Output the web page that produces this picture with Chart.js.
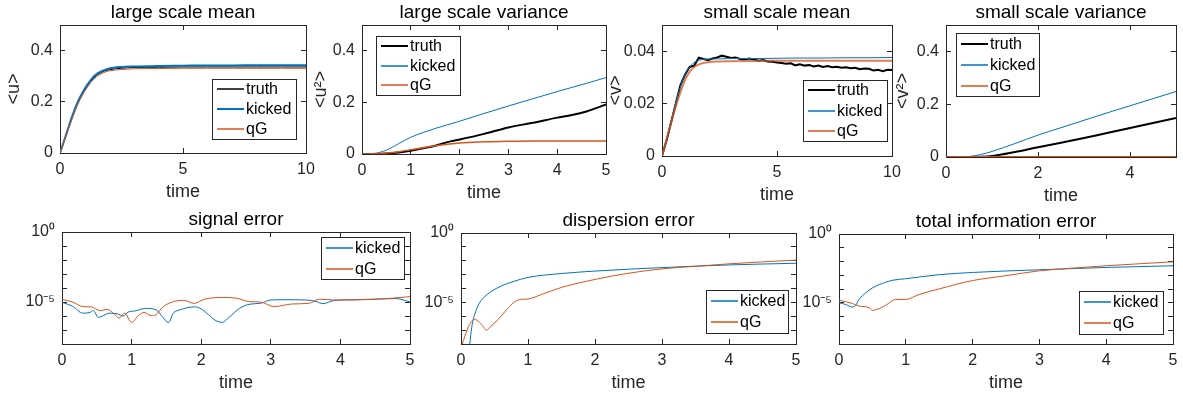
<!DOCTYPE html>
<html>
<head>
<meta charset="utf-8">
<script src="https://cdn.jsdelivr.net/npm/chart.js@4.4.1/dist/chart.umd.min.js"></script>
<style>
  body { margin: 0; background: #fff; width: 1183px; height: 398px; overflow: hidden; position: relative; }
  canvas { position: absolute; }
</style>
</head>
<body>
<script>
// large scale mean
const t1 = [0, 0.25, 0.5, 0.75, 1, 1.25, 1.5, 1.75, 2, 2.5, 3, 4, 5, 6, 7, 8, 9, 10];
const truth1 = [0, 0.07, 0.14, 0.20, 0.245, 0.28, 0.304, 0.318, 0.325, 0.331, 0.334, 0.335, 0.336, 0.336, 0.336, 0.336, 0.336, 0.336];
const kicked1 = [0, 0.072, 0.145, 0.205, 0.25, 0.285, 0.309, 0.322, 0.33, 0.336, 0.338, 0.340, 0.341, 0.342, 0.342, 0.343, 0.343, 0.343];
const qg1 = [0, 0.068, 0.135, 0.195, 0.24, 0.275, 0.299, 0.313, 0.321, 0.326, 0.329, 0.330, 0.331, 0.331, 0.331, 0.331, 0.331, 0.331];

// large scale variance
const t2 = [0, 0.25, 0.5, 0.75, 1, 1.25, 1.5, 1.75, 2, 2.5, 3, 3.5, 4, 4.3, 4.6, 5];
const truth2 = [0, 0, 0.002, 0.006, 0.013, 0.022, 0.032, 0.046, 0.056, 0.078, 0.103, 0.121, 0.141, 0.151, 0.165, 0.192];
const kicked2 = [0, 0.002, 0.015, 0.04, 0.065, 0.083, 0.099, 0.113, 0.127, 0.157, 0.186, 0.214, 0.242, 0.258, 0.274, 0.296];
const qg2 = [0, 0.001, 0.004, 0.009, 0.016, 0.024, 0.032, 0.038, 0.043, 0.047, 0.049, 0.050, 0.050, 0.050, 0.050, 0.050];

// small scale mean
const t3 = [0, 0.25, 0.5, 0.75, 1, 1.25, 1.5, 1.75, 2, 2.5, 3, 4, 5, 6, 7, 8, 9, 10];
const kicked3 = [0, 0.008, 0.017, 0.025, 0.031, 0.0345, 0.0362, 0.0368, 0.0370, 0.0371, 0.0372, 0.0372, 0.0373, 0.0374, 0.0374, 0.0375, 0.0375, 0.0376];
const qg3 = [0, 0.008, 0.016, 0.023, 0.029, 0.0327, 0.0345, 0.0354, 0.0358, 0.0361, 0.0362, 0.0363, 0.0364, 0.0364, 0.0364, 0.0364, 0.0364, 0.0364];
const truthT3 = [0, 0.2, 0.4, 0.6, 0.8, 1, 1.2, 1.4, 1.6, 1.8, 2, 2.2, 2.4, 2.6, 2.8, 3, 3.2, 3.4, 3.6, 3.8, 4, 4.2, 4.4, 4.6, 4.8, 5,
  5.2, 5.4, 5.6, 5.8, 6, 6.2, 6.4, 6.6, 6.8, 7, 7.2, 7.4, 7.6, 7.8, 8, 8.2, 8.4, 8.6, 8.8, 9, 9.2, 9.4, 9.6, 9.8, 10];
const truth3 = [0, 0.006, 0.013, 0.020, 0.027, 0.031, 0.034, 0.0345, 0.0375, 0.0370, 0.0366, 0.0372, 0.0376, 0.0383, 0.0379, 0.0374,
  0.0376, 0.0370, 0.0368, 0.0372, 0.0368, 0.0364, 0.0366, 0.0361, 0.0360, 0.0357, 0.0355, 0.0352, 0.0354, 0.0346, 0.0350,
  0.0345, 0.0347, 0.0342, 0.0345, 0.0340, 0.0343, 0.0339, 0.0341, 0.0337, 0.0339, 0.0335, 0.0337, 0.0331, 0.0334, 0.0333,
  0.0326, 0.0329, 0.0324, 0.0329, 0.0328];

// small scale variance
const t4 = [0, 0.25, 0.5, 0.75, 1, 1.5, 2, 2.5, 3, 3.5, 4, 4.5, 5];
const truth4 = [0, 0, 0, 0.001, 0.004, 0.019, 0.037, 0.054, 0.072, 0.091, 0.110, 0.129, 0.148];
const kicked4 = [0, 0, 0.002, 0.009, 0.021, 0.051, 0.083, 0.111, 0.139, 0.167, 0.194, 0.221, 0.248];
const qg4 = [0, 0.0005, 0.001, 0.001, 0.001, 0.001, 0.001, 0.001, 0.001, 0.001, 0.001, 0.001, 0.001];

// signal error
const tK5 = [0, 0.15, 0.3, 0.4, 0.45, 0.52, 0.6, 0.68, 0.8, 0.88, 0.95, 1.05, 1.2, 1.35, 1.45, 1.53, 1.6, 1.7, 1.9, 2, 2.1,
  2.2, 2.3, 2.4, 2.55, 2.7, 2.85, 3, 3.2, 3.5, 3.65, 3.75, 3.9, 4.2, 4.5, 4.8, 5];
const kicked5 = [9.5e-6, 5e-6, 1.6e-6, 1.8e-6, 2.5e-6, 8e-7, 1.1e-6, 1.6e-6, 1.4e-6, 1e-6, 1.9e-6, 2.3e-6, 3.5e-6, 2.8e-6,
  8e-7, 3.4e-7, 1.6e-6, 2.8e-6, 4.5e-6, 3.2e-6, 1.3e-6, 5e-7, 3.5e-7, 8e-7, 3.5e-6, 7e-6, 8e-6, 1.4e-5, 1.45e-5, 1.4e-5,
  1.1e-5, 7.6e-6, 1.25e-5, 1.45e-5, 1.6e-5, 1.75e-5, 1e-5];
const tQ5 = [0, 0.15, 0.3, 0.42, 0.55, 0.65, 0.75, 0.82, 0.9, 1, 1.1, 1.18, 1.28, 1.35, 1.45, 1.6, 1.75, 1.9, 2.05, 2.3, 2.5,
  2.7, 2.85, 3.05, 3.3, 3.55, 3.7, 3.9, 4.5, 5];
const qg5 = [1.55e-5, 1e-5, 4.7e-6, 4.5e-6, 2.4e-6, 3e-6, 1.4e-6, 7e-7, 1.6e-6, 3.5e-7, 1.1e-6, 1.8e-6, 1.07e-6, 1.25e-6,
  4.5e-6, 1.05e-5, 1.3e-5, 8e-6, 1.6e-5, 2.1e-5, 1.9e-5, 1.05e-5, 1e-5, 4.7e-6, 7.2e-6, 8.1e-6, 1.6e-5, 1.4e-5, 1.55e-5, 2.4e-5];

// dispersion error
const tK6 = [0.08, 0.13, 0.16, 0.19, 0.23, 0.28, 0.35, 0.45, 0.6, 0.8, 1, 1.5, 2, 3, 4, 5];
const kicked6 = [1e-9, 1e-8, 1.6e-7, 8e-7, 3e-6, 1e-5, 2.5e-5, 6e-5, 1.5e-4, 3.4e-4, 6.3e-4, 1.2e-3, 1.8e-3, 3.2e-3, 5e-3, 6.6e-3];
const tQ6 = [0.02, 0.09, 0.14, 0.2, 0.3, 0.38, 0.45, 0.5, 0.6, 0.7, 0.8, 0.9, 1, 1.2, 1.5, 2, 2.5, 3, 3.5, 4, 4.5, 5];
const qg6 = [1e-8, 1e-7, 3.2e-7, 6e-7, 2.8e-7, 1e-7, 2e-7, 3.2e-7, 1.05e-6, 3.7e-6, 1.1e-5, 1.65e-5, 1.75e-5, 3.7e-5,
  1.2e-4, 4.5e-4, 1.26e-3, 2.6e-3, 4e-3, 6e-3, 8.3e-3, 1.1e-2];

// total information error
const tK7 = [0, 0.1, 0.2, 0.25, 0.3, 0.4, 0.5, 0.7, 0.8, 1, 1.5, 2, 3, 4, 5];
const kicked7 = [1e-5, 7.5e-6, 4.9e-6, 6.5e-6, 1.75e-5, 5.2e-5, 1.2e-4, 3.1e-4, 4.3e-4, 5.6e-4, 1.1e-3, 1.6e-3, 2.5e-3, 3.7e-3, 4.9e-3];
const tQ7 = [0, 0.2, 0.3, 0.45, 0.5, 0.6, 0.7, 0.85, 1, 1.2, 1.5, 2, 2.5, 3, 3.5, 4, 5];
const qg7 = [1.55e-5, 8.9e-6, 5.8e-6, 4.4e-6, 2.8e-6, 3.7e-6, 6.5e-6, 1.75e-5, 1.75e-5, 4e-5, 1.02e-4, 4.1e-4, 9.3e-4,
  2.1e-3, 3.3e-3, 4.9e-3, 9.5e-3];

// ticks
const xTicks10 = [0, 5, 10];
const xTicks5 = [0, 1, 2, 3, 4, 5];
const xTicks4 = [0, 2, 4];
const yTicksHalf = [0, 0.2, 0.4];
const yTicksSmall = [0, 0.02, 0.04];
const logTicks = [1e-8, 1e-7, 1e-6, 1e-5, 1e-4, 1e-3, 1e-2, 1e-1, 1];
const logTickLabels = ['', '', '', '10\u207B\u2075', '', '', '', '', '10\u2070'];

const BLUE = '#0072BD', ORANGE = '#D95319', BLACK = '#000000';
const axisColor = '#262626';
const fontFamily = '"Liberation Sans", Arial, sans-serif';
Chart.defaults.font.family = fontFamily;
Chart.defaults.color = axisColor;

function pts(xs, ys) {
  return xs.map((x, i) => ({ x: x, y: ys[i] }));
}

function line(label, xs, ys, color, width, extra) {
  return Object.assign({
    label: label, data: pts(xs, ys), borderColor: color, backgroundColor: color,
    borderWidth: width, pointRadius: 0, fill: false, cubicInterpolationMode: 'monotone'
  }, extra || {});
}

// legend box drawn inside the plot, MATLAB style
const boxLegend = {
  id: 'boxLegend',
  afterDatasetsDraw(chart, args, opts) {
    if (!opts.rect) return;
    const { ctx, chartArea } = chart;
    const [lx, ly, lw, lh] = opts.rect;
    const x = Math.round(chartArea.left + lx), y = Math.round(chartArea.top + ly);
    const sets = chart.data.datasets;
    const slot = lh / sets.length;
    ctx.save();
    ctx.fillStyle = '#fff';
    ctx.fillRect(x, y, lw, lh);
    ctx.strokeStyle = axisColor;
    ctx.lineWidth = 1;
    ctx.strokeRect(x + 0.5, y + 0.5, lw, lh);
    ctx.font = '16px ' + fontFamily;
    ctx.textBaseline = 'middle';
    sets.forEach((ds, i) => {
      const lwid = Math.max(1.5, ds.legendWidth || ds.borderWidth);
      const cy = Math.round(y + slot * (i + 0.5));
      ctx.strokeStyle = ds.legendColor || ds.borderColor;
      ctx.lineWidth = lwid;
      ctx.beginPath();
      ctx.moveTo(x + 5, cy);
      ctx.lineTo(x + 32, cy);
      ctx.stroke();
      ctx.fillStyle = '#000';
      ctx.fillText(ds.label, x + 34, cy + 1);
    });
    ctx.restore();
  }
};

function makePanel(p) {
  const [x0, y0, x1, y1] = p.box;
  const left = Math.round(p.ytitle ? p.ytitleX - 10.8 : x0 - 50);
  const top = y0 - 25;
  const yw = x0 - left;
  const w = x1 - x0 + yw + 16;
  const h = y1 - y0 + 25 + 50;
  const c = document.createElement('canvas');
  c.width = w; c.height = h;
  c.style.left = left + 'px';
  c.style.top = top + 'px';
  document.body.appendChild(c);

  const setX = s => { s.ticks = p.xticks.map(v => ({ value: v })); };
  const setY = s => { s.ticks = p.yticks.map(v => ({ value: v })); };
  const grid = { drawOnChartArea: false, tickLength: -5, color: axisColor };
  const border = { color: axisColor, width: 1 };
  const yType = p.log ? 'logarithmic' : 'linear';

  p.datasets.forEach((ds, i) => { ds.order = -i; ds.xAxisID = 'x'; ds.yAxisID = 'y'; });

  new Chart(c, {
    type: 'line',
    data: { datasets: p.datasets },
    plugins: [boxLegend],
    options: {
      responsive: false,
      animation: false,
      devicePixelRatio: 1,
      layout: { padding: { left: 0, top: 0, right: 16, bottom: 0 } },
      plugins: {
        legend: { display: false },
        tooltip: { enabled: false },
        title: {
          display: true, text: p.title, fullSize: false, color: '#000',
          font: { size: 19, weight: 'normal', lineHeight: 1.2 },
          padding: { top: 1, bottom: 1.2 }
        },
        boxLegend: { rect: p.legend }
      },
      scales: {
        x: {
          type: 'linear', position: 'bottom', min: 0, max: p.xmax,
          afterBuildTicks: setX,
          afterFit: s => { s.height = 50; s.paddingLeft = 0; s.paddingRight = 0; },
          grid: grid, border: border,
          ticks: { color: axisColor, font: { size: 16 }, padding: 12, maxRotation: 0, autoSkip: false,
                   callback: v => String(v) },
          title: { display: true, text: 'time', color: axisColor, font: { size: 18 }, padding: 0 }
        },
        xt: {
          type: 'linear', position: 'top', min: 0, max: p.xmax,
          afterBuildTicks: setX,
          afterFit: s => { s.height = 0; s.paddingLeft = 0; s.paddingRight = 0; },
          grid: grid, border: border,
          ticks: { display: false, autoSkip: false }
        },
        y: {
          type: yType, position: 'left', min: p.ymin, max: p.ymax,
          afterBuildTicks: setY,
          afterFit: s => { s.width = yw; s.paddingTop = 0; s.paddingBottom = 0; },
          grid: grid, border: border,
          ticks: { color: axisColor, font: { size: 16 }, padding: 12, autoSkip: false,
                   callback: p.log ? (v, i) => logTickLabels[i] : v => String(v) },
          title: { display: !!p.ytitle, text: p.ytitle || '', color: axisColor, font: { size: 18 }, padding: 0 }
        },
        yr: {
          type: yType, position: 'right', min: p.ymin, max: p.ymax,
          afterBuildTicks: setY,
          afterFit: s => { s.width = 0; s.paddingTop = 0; s.paddingBottom = 0; },
          grid: grid, border: border,
          ticks: { display: false, autoSkip: false }
        }
      }
    }
  });
}

const panels = [
  {
    box: [60, 25, 306, 153], title: 'large scale mean', ytitle: '<u>', ytitleX: 14,
    xmax: 10, xticks: xTicks10, ymin: 0, ymax: 0.5, yticks: yTicksHalf, legend: [152, 54, 84, 60],
    datasets: [
      line('truth', t1, truth1, BLACK, 1),
      line('kicked', t1, kicked1, BLUE, 2),
      line('qG', t1, qg1, ORANGE, 1)
    ]
  },
  {
    box: [362, 25, 606, 154], title: 'large scale variance', ytitle: '<u\u00B2>', ytitleX: 321,
    xmax: 5, xticks: xTicks5, ymin: 0, ymax: 0.5, yticks: yTicksHalf, legend: [14, 11, 84, 59],
    datasets: [
      line('truth', t2, truth2, BLACK, 2),
      line('kicked', t2, kicked2, BLUE, 1),
      line('qG', t2, qg2, ORANGE, 1.5, { legendWidth: 1 })
    ]
  },
  {
    box: [662, 25, 892, 156], title: 'small scale mean', ytitle: '<v>', ytitleX: 616,
    xmax: 10, xticks: xTicks10, ymin: 0, ymax: 0.05, yticks: yTicksSmall, legend: [141, 55, 84, 61],
    datasets: [
      line('truth', truthT3, truth3, BLACK, 2, { cubicInterpolationMode: 'default', tension: 0 }),
      line('kicked', t3, kicked3, BLUE, 1),
      line('qG', t3, qg3, 'rgba(217,83,25,0.75)', 2, { legendWidth: 1, legendColor: ORANGE })
    ]
  },
  {
    box: [946, 25, 1176, 157], title: 'small scale variance', ytitle: '<v\u00B2>', ytitleX: 903,
    xmax: 5, xticks: xTicks4, ymin: 0, ymax: 0.5, yticks: yTicksHalf, legend: [10, 8, 83, 63],
    datasets: [
      line('truth', t4, truth4, BLACK, 2),
      line('kicked', t4, kicked4, BLUE, 1),
      line('qG', t4, qg4, ORANGE, 1.5, { legendWidth: 1 })
    ]
  },
  {
    box: [62, 232, 410, 344], title: 'signal error', log: true,
    xmax: 5, xticks: xTicks5, ymin: 1e-8, ymax: 1, yticks: logTicks, legend: [259, 5, 83, 42],
    datasets: [
      line('kicked', tK5, kicked5, BLUE, 1),
      line('qG', tQ5, qg5, ORANGE, 1)
    ]
  },
  {
    box: [461, 233, 796, 344], title: 'dispersion error', log: true,
    xmax: 5, xticks: xTicks5, ymin: 1e-8, ymax: 1, yticks: logTicks, legend: [245, 57, 82, 43],
    datasets: [
      line('kicked', tK6, kicked6, BLUE, 1),
      line('qG', tQ6, qg6, ORANGE, 1)
    ]
  },
  {
    box: [839, 234, 1173, 344], title: 'total information error', log: true,
    xmax: 5, xticks: xTicks5, ymin: 1e-8, ymax: 1, yticks: logTicks, legend: [240, 57, 84, 43],
    datasets: [
      line('kicked', tK7, kicked7, BLUE, 1),
      line('qG', tQ7, qg7, ORANGE, 1)
    ]
  }
];

panels.forEach(makePanel);
</script>
</body>
</html>
